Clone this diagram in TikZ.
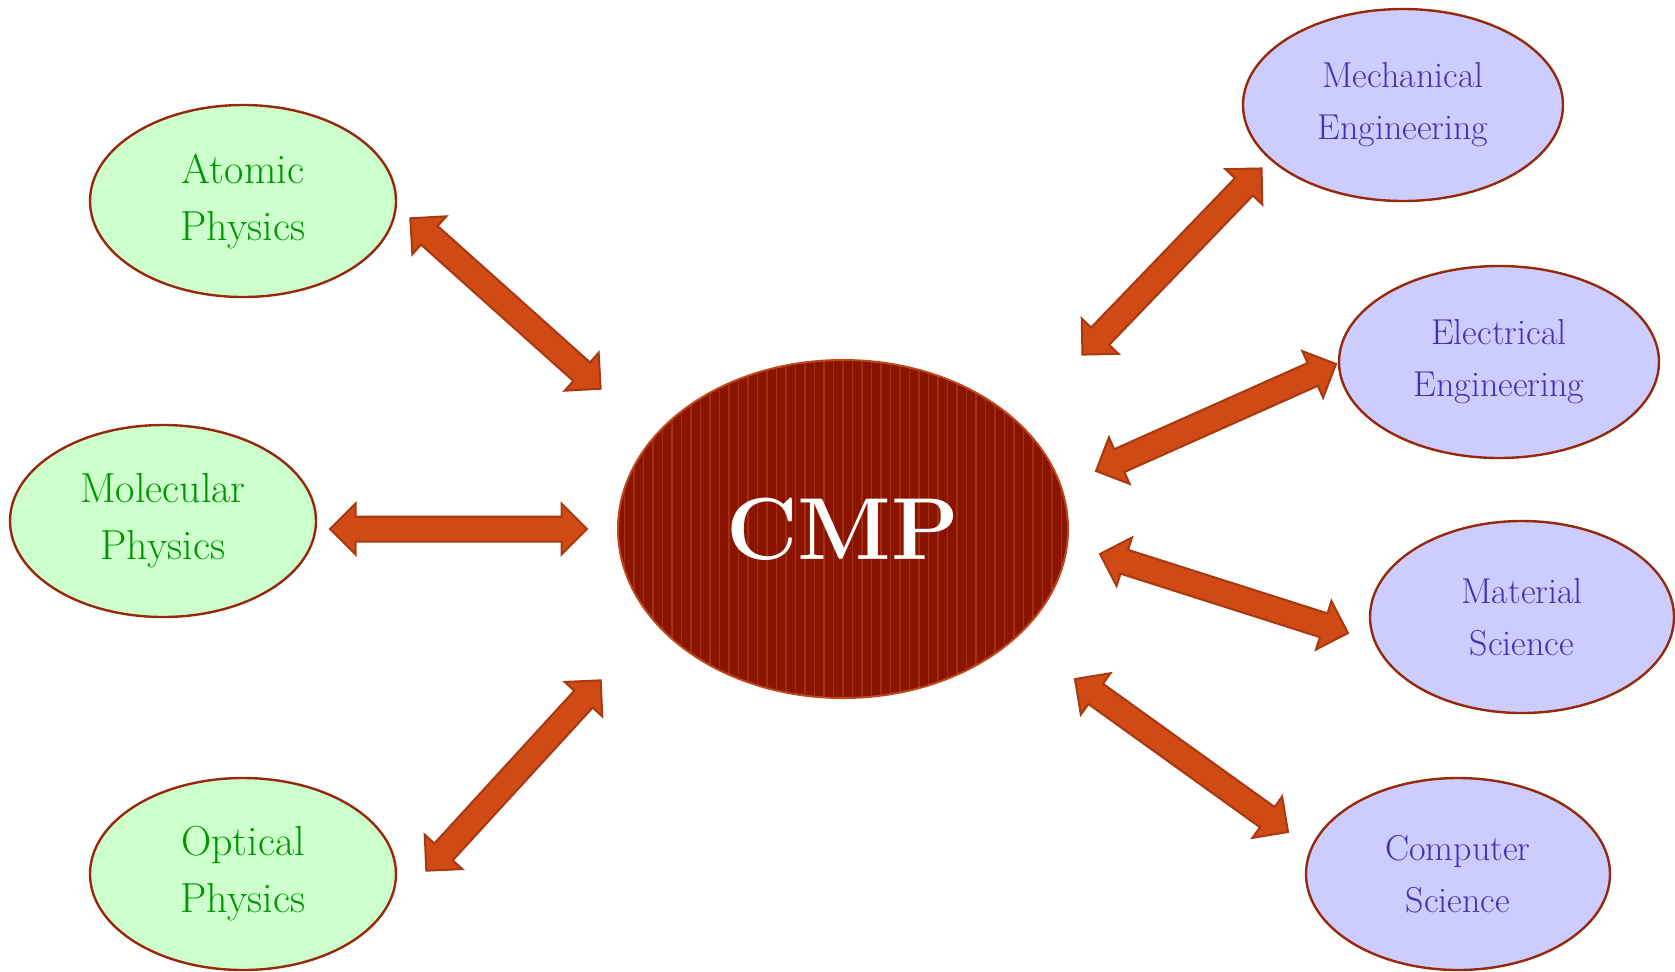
\documentclass[tikz,border=0pt]{standalone}
\usetikzlibrary{shapes.geometric,shapes.arrows,calc}
\definecolor{physfill}{RGB}{204,255,204}
\definecolor{phystext}{RGB}{0,150,0}
\definecolor{engfill}{RGB}{204,204,255}
\definecolor{engtext}{RGB}{65,50,175}
\definecolor{rim}{RGB}{150,40,12}
\definecolor{arrowfill}{RGB}{208,74,22}
\definecolor{arrowrim}{RGB}{168,56,16}
\definecolor{cmpfill}{RGB}{139,20,0}
\definecolor{cmpstripe}{RGB}{160,48,16}
\definecolor{cmprim}{RGB}{190,70,25}
\begin{document}
\begin{tikzpicture}[x=0.5pt,y=-0.5pt,
	every node/.style={align=center},
	field/.style={ellipse,draw=rim,line width=1.2pt,minimum height=96pt},
	physstyle/.style={field,fill=physfill,text=phystext,minimum width=153pt,
		font=\fontsize{21}{28.5}\selectfont},
	engstyle/.style={field,fill=engfill,text=engtext,minimum width=152pt,
		font=\fontsize{18}{26}\selectfont},
	mycmp/.style={ellipse,fill=cmpfill,draw=cmprim,line width=1pt,text=white,
		minimum width=225pt,minimum height=169pt,font=\fontsize{44}{44}\selectfont\bfseries,
		path picture={\foreach \i in {-23,...,23}
			\draw[cmpstripe,line width=0.9pt] ($(path picture bounding box.north)+(\i*9.5,0)$)
				-- ($(path picture bounding box.south)+(\i*9.5,0)$);}},
	arrowstyle/.style={double arrow,fill=arrowfill,draw=arrowrim,line width=1pt,
		inner xsep=0pt,inner ysep=5.75pt,minimum width=25pt,double arrow head extend=6.5pt}]
	
	\useasboundingbox (0,0) rectangle (1675,971);
	
	\node[mycmp] (cmp) at (843,529) {CMP};
	
	\node[physstyle] (atom) at (243,201) {Atomic\\Physics};
	\node[physstyle] (mol) at (163,521) {Molecular\\Physics};
	\node[physstyle] (opt) at (243,874) {Optical\\Physics};
	
	\node[engstyle,minimum width=160pt] (mech) at (1403,105) {Mechanical\\Engineering};
	\node[engstyle,minimum width=160pt] (elec) at (1499,362) {Electrical\\Engineering};
	\node[engstyle] (mat) at (1522,617) {Material\\Science};
	\node[engstyle] (comp) at (1458,874) {Computer\\Science};
	
	% arrow ends
	\coordinate (p1) at (410,218);  \coordinate (q1) at (601,389);
	\coordinate (p2) at (330,529);  \coordinate (q2) at (587,529);
	\coordinate (p3) at (426,871);  \coordinate (q3) at (601,680);
	\coordinate (p4) at (1082,355); \coordinate (q4) at (1262,168);
	\coordinate (p5) at (1096,471); \coordinate (q5) at (1336,364);
	\coordinate (p6) at (1100,554); \coordinate (q6) at (1348,633);
	\coordinate (p7) at (1075,679); \coordinate (q7) at (1288,832);
	
	\foreach \a/\b in {p1/q1,p2/q2,p3/q3,p4/q4,p5/q5,p6/q6,p7/q7}
		\path let \p1=($(\b)-(\a)$), \n1={veclen(\x1,\y1)}, \n2={atan2(\y1,\x1)} in
			node[arrowstyle,minimum height=\n1,rotate=\n2] at ($(\a)!0.5!(\b)$) {};
	
\end{tikzpicture}
\end{document}
